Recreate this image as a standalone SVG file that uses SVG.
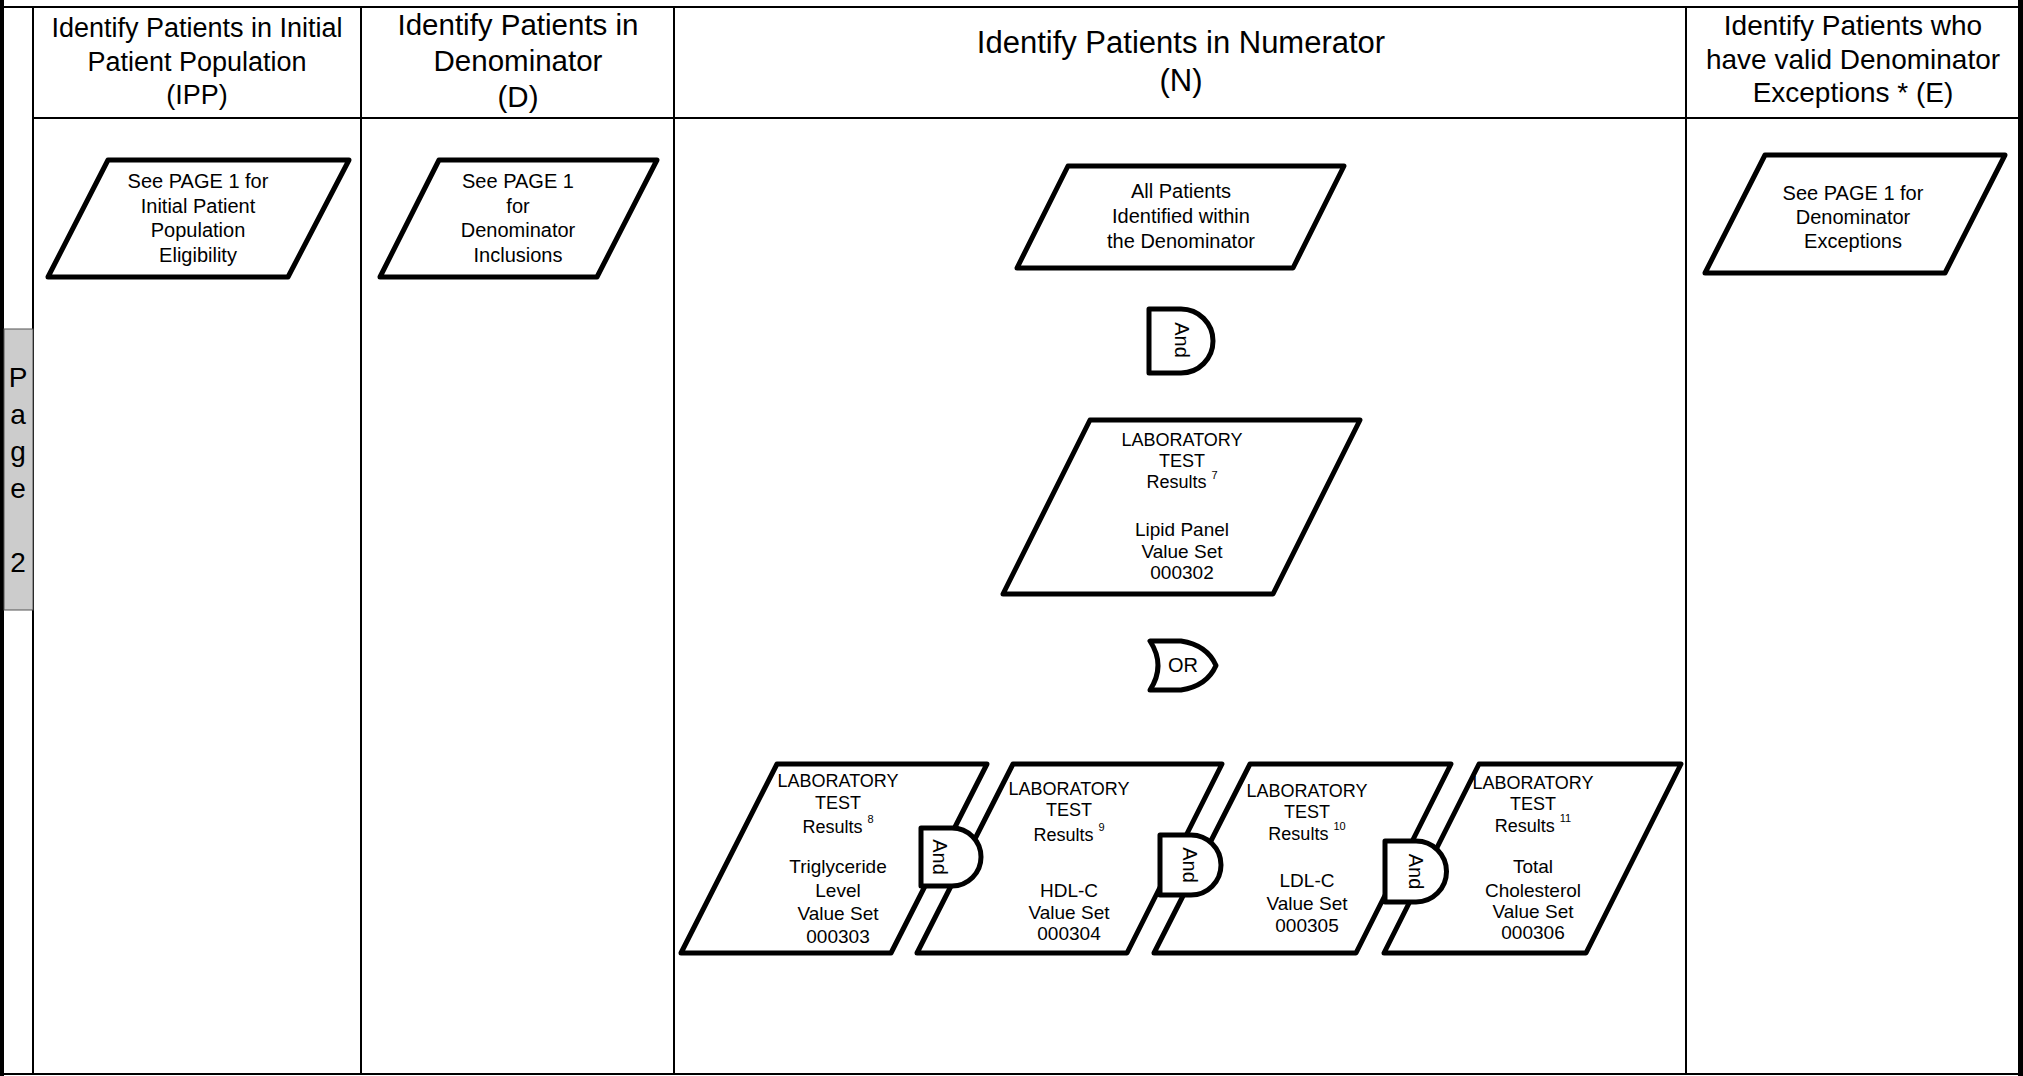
<svg xmlns="http://www.w3.org/2000/svg" width="2023" height="1076" viewBox="0 0 2023 1076">
<style>
.frame{stroke:#000;stroke-width:2;fill:none}
.shape{fill:#fff;stroke:#000;stroke-width:5;stroke-linejoin:round}
text{font-family:"Liberation Sans",Arial,sans-serif;fill:#000;text-anchor:middle}
.t20{font-size:20px}
.t18{font-size:18px}
.v{font-size:19px}
.sup{font-size:11px}
</style>
<rect width="2023" height="1076" fill="#fff"/>
<g id="frame">
<rect x="0" y="0" width="4" height="1076" fill="#000"/>
<rect x="2018" y="0" width="5" height="1076" fill="#000"/>
<line class="frame" x1="0" y1="7" x2="2023" y2="7"/>
<line class="frame" x1="0" y1="1074" x2="2023" y2="1074"/>
<line class="frame" x1="33" y1="118" x2="2018" y2="118"/>
<line class="frame" x1="33" y1="7" x2="33" y2="1074"/>
<line class="frame" x1="361" y1="7" x2="361" y2="1074"/>
<line class="frame" x1="674" y1="7" x2="674" y2="1074"/>
<line class="frame" x1="1686" y1="7" x2="1686" y2="1074"/>
</g>
<g id="page-tab">
<rect x="4" y="329" width="29" height="281" fill="#cccccc" stroke="#555" stroke-width="1"/>
<text x="18" y="387" style="font-size:28px">P</text>
<text x="18" y="424" style="font-size:28px">a</text>
<text x="18" y="461" style="font-size:28px">g</text>
<text x="18" y="498" style="font-size:28px">e</text>
<text x="18" y="572" style="font-size:28px">2</text>
</g>
<g id="headers">
<text style="font-size:27px"><tspan x="197" y="37">Identify Patients in Initial</tspan><tspan x="197" y="71">Patient Population</tspan><tspan x="197" y="104">(IPP)</tspan></text>
<text style="font-size:29.5px"><tspan x="518" y="35">Identify Patients in</tspan><tspan x="518" y="71">Denominator</tspan><tspan x="518" y="107">(D)</tspan></text>
<text style="font-size:31px"><tspan x="1181" y="53">Identify Patients in Numerator</tspan><tspan x="1181" y="91">(N)</tspan></text>
<text style="font-size:28px"><tspan x="1853" y="35">Identify Patients who</tspan><tspan x="1853" y="69">have valid Denominator</tspan><tspan x="1853" y="102">Exceptions * (E)</tspan></text>
</g>
<g id="connectors"></g>
<g id="ipp">
<path class="shape" d="M108,160 L349,160 L288,277 L48,277 Z"/>
<text class="t20"><tspan x="198" y="188">See PAGE 1 for</tspan><tspan x="198" y="213">Initial Patient</tspan><tspan x="198" y="237">Population</tspan><tspan x="198" y="262">Eligibility</tspan></text>
</g>
<g id="denominator">
<path class="shape" d="M439,160 L657,160 L597,277 L380,277 Z"/>
<text class="t20"><tspan x="518" y="188">See PAGE 1</tspan><tspan x="518" y="213">for</tspan><tspan x="518" y="237">Denominator</tspan><tspan x="518" y="262">Inclusions</tspan></text>
</g>
<g id="all-patients">
<path class="shape" d="M1068,166 L1344,166 L1293,268 L1017,268 Z"/>
<text class="t20"><tspan x="1181" y="198">All Patients</tspan><tspan x="1181" y="223">Identified within</tspan><tspan x="1181" y="248">the Denominator</tspan></text>
</g>
<g id="exceptions">
<path class="shape" d="M1765,155 L2005,155 L1945,273 L1705,273 Z"/>
<text class="t20"><tspan x="1853" y="200">See PAGE 1 for</tspan><tspan x="1853" y="224">Denominator</tspan><tspan x="1853" y="248">Exceptions</tspan></text>
</g>
<g id="and1">
<path class="shape" d="M1149,309 H1181 A32,32 0 0 1 1181,373 H1149 Z"/>
<text class="t20" transform="translate(1175,340) rotate(90)" x="0" y="0">And</text>
</g>
<g id="lipid-panel">
<path class="shape" d="M1090,420 L1360,420 L1273,594 L1003,594 Z"/>
<text class="t18"><tspan x="1182" y="446">LABORATORY</tspan><tspan x="1182" y="467">TEST</tspan><tspan x="1182" y="488">Results <tspan class="sup" dy="-9">7</tspan></tspan><tspan class="v" x="1182" y="536">Lipid Panel</tspan><tspan class="v" x="1182" y="558">Value Set</tspan><tspan class="v" x="1182" y="579">000302</tspan></text>
</g>
<g id="or1">
<path class="shape" d="M1150,641 H1181 Q1207,645 1216,665.5 Q1207,686 1181,690 H1150 Q1166,665.5 1150,641 Z"/>
<text class="t20" x="1183" y="672">OR</text>
</g>
<g id="triglyceride">
<path class="shape" d="M777,764 L987,764 L891,953 L681,953 Z"/>
<text class="t18"><tspan x="838" y="787">LABORATORY</tspan><tspan x="838" y="809">TEST</tspan><tspan x="838" y="833">Results <tspan class="sup" dy="-10">8</tspan></tspan><tspan class="v" x="838" y="873">Triglyceride</tspan><tspan class="v" x="838" y="897">Level</tspan><tspan class="v" x="838" y="920">Value Set</tspan><tspan class="v" x="838" y="943">000303</tspan></text>
</g>
<g id="hdl">
<path class="shape" d="M1013,764 L1222,764 L1127,953 L917,953 Z"/>
<text class="t18"><tspan x="1069" y="795">LABORATORY</tspan><tspan x="1069" y="816">TEST</tspan><tspan x="1069" y="841">Results <tspan class="sup" dy="-10">9</tspan></tspan><tspan class="v" x="1069" y="897">HDL-C</tspan><tspan class="v" x="1069" y="919">Value Set</tspan><tspan class="v" x="1069" y="940">000304</tspan></text>
</g>
<g id="ldl">
<path class="shape" d="M1250,764 L1451,764 L1356,953 L1154,953 Z"/>
<text class="t18"><tspan x="1307" y="797">LABORATORY</tspan><tspan x="1307" y="818">TEST</tspan><tspan x="1307" y="840">Results <tspan class="sup" dy="-10">10</tspan></tspan><tspan class="v" x="1307" y="887">LDL-C</tspan><tspan class="v" x="1307" y="910">Value Set</tspan><tspan class="v" x="1307" y="932">000305</tspan></text>
</g>
<g id="total-cholesterol">
<path class="shape" d="M1479,764 L1681,764 L1586,953 L1384,953 Z"/>
<text class="t18"><tspan x="1533" y="789">LABORATORY</tspan><tspan x="1533" y="810">TEST</tspan><tspan x="1533" y="832">Results <tspan class="sup" dy="-10">11</tspan></tspan><tspan class="v" x="1533" y="873">Total</tspan><tspan class="v" x="1533" y="897">Cholesterol</tspan><tspan class="v" x="1533" y="918">Value Set</tspan><tspan class="v" x="1533" y="939">000306</tspan></text>
</g>
<g id="and2">
<path class="shape" d="M921,828 H952 A29,29 0 0 1 952,886 H921 Z"/>
<text class="t20" transform="translate(933,857) rotate(90)" x="0" y="0">And</text>
</g>
<g id="and3">
<path class="shape" d="M1160,835 H1191 A30,30 0 0 1 1191,895 H1160 Z"/>
<text class="t20" transform="translate(1183,865) rotate(90)" x="0" y="0">And</text>
</g>
<g id="and4">
<path class="shape" d="M1385,841 H1416 A30.5,30.5 0 0 1 1416,902 H1385 Z"/>
<text class="t20" transform="translate(1409,871.5) rotate(90)" x="0" y="0">And</text>
</g>
</svg>
